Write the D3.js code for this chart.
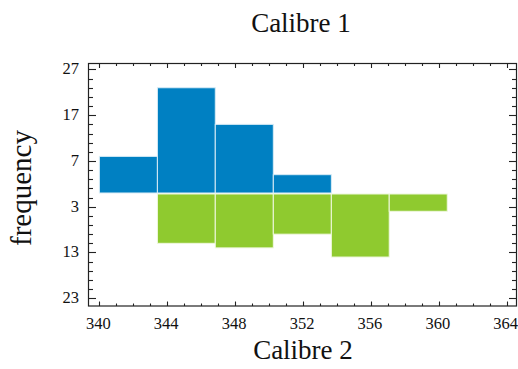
<!DOCTYPE html>
<html><head><meta charset="utf-8">
<script src="https://cdn.jsdelivr.net/npm/d3@7"></script>
<style>html,body{margin:0;padding:0;background:#fff;}svg{display:block;}</style>
</head><body>
<script>
const title = "Calibre 1";
const xLabel = "Calibre 2";
const yLabel = "frequency";
const binEdges = [340, 343.42, 346.83, 350.25, 353.67, 357.08, 360.5];
const upperCounts = [8, 23, 15, 4, 0, 0];   // Calibre 1
const lowerCounts = [0, 11, 12, 9, 14, 4];  // Calibre 2
const xTickValues = [340, 344, 348, 352, 356, 360, 364];
const yTickValues = [27, 17, 7, -3, -13, -23];

const W = 518, H = 369;
const plot = {left: 88, right: 517, top: 63.5, bottom: 306};
const svg = d3.select("body").append("svg").attr("width", W).attr("height", H);

const x = d3.scaleLinear().domain([339.33, 364.61]).range([plot.left, plot.right]);
const y = d3.scaleLinear().domain([-24.7, 28.3]).range([plot.bottom, plot.top]);

const blue = "#0080c2", green = "#8fca2f";

const bins = binEdges.slice(0, -1).map((e, i) => ({x0: e, x1: binEdges[i + 1], up: upperCounts[i], down: lowerCounts[i]}));

svg.append("g").selectAll("rect").data(bins.filter(d => d.up > 0)).join("rect")
  .attr("x", d => x(d.x0)).attr("width", d => x(d.x1) - x(d.x0))
  .attr("y", d => y(d.up)).attr("height", d => y(0) - y(d.up))
  .attr("fill", blue).attr("stroke", "#d8ecf6").attr("stroke-width", 1);

svg.append("g").selectAll("rect").data(bins.filter(d => d.down > 0)).join("rect")
  .attr("x", d => x(d.x0)).attr("width", d => x(d.x1) - x(d.x0))
  .attr("y", d => y(0) + 1).attr("height", d => y(-d.down) - y(0) - 1)
  .attr("fill", green).attr("stroke", "#f0f8e0").attr("stroke-width", 1);

// frame
svg.append("rect").attr("x", plot.left + 0.5).attr("y", plot.top)
  .attr("width", plot.right - plot.left - 1).attr("height", plot.bottom - plot.top)
  .attr("fill", "none").attr("stroke", "#222").attr("stroke-width", 1.2);

const xMinor = d3.range(340, 365, 1);
const yMinor = d3.range(-23, 28.5, 2);
const tk = svg.append("g").attr("stroke", "#222").attr("stroke-width", 1.1);
xMinor.forEach(v => {
  const major = xTickValues.includes(v);
  const len = major ? 4.5 : 2.5;
  const px = Math.round(x(v)) + 0.5;
  tk.append("line").attr("x1", px).attr("x2", px).attr("y1", plot.bottom).attr("y2", plot.bottom - len);
  tk.append("line").attr("x1", px).attr("x2", px).attr("y1", plot.top).attr("y2", plot.top + len);
});
yMinor.forEach(v => {
  const major = yTickValues.includes(v);
  const len = major ? 8 : 5;
  const py = Math.round(y(v)) + 0.5;
  tk.append("line").attr("x1", plot.left).attr("x2", plot.left + len).attr("y1", py).attr("y2", py);
  tk.append("line").attr("x1", plot.right).attr("x2", plot.right - len).attr("y1", py).attr("y2", py);
});

const serif = "'Liberation Serif','Times New Roman',serif";
svg.append("g").selectAll("text").data(xTickValues).join("text")
  .attr("x", d => x(d) - 1).attr("y", 329).attr("text-anchor", "middle")
  .attr("font-family", serif).attr("font-size", 16.5).attr("fill", "#111").text(d => d);
svg.append("g").selectAll("text").data(yTickValues).join("text")
  .attr("x", 79).attr("y", d => y(d) + 5).attr("text-anchor", "end")
  .attr("font-family", serif).attr("font-size", 16.5).attr("fill", "#111").text(d => Math.abs(d));

svg.append("text").attr("x", 301).attr("y", 32).attr("text-anchor", "middle")
  .attr("font-family", serif).attr("font-size", 27).attr("fill", "#111").text(title);
svg.append("text").attr("x", 303).attr("y", 359).attr("text-anchor", "middle")
  .attr("font-family", serif).attr("font-size", 27).attr("fill", "#111").text(xLabel);
svg.append("text").attr("transform", "translate(31,188) rotate(-90)").attr("text-anchor", "middle")
  .attr("font-family", serif).attr("font-size", 29).attr("fill", "#111").text(yLabel);
</script>
</body></html>
